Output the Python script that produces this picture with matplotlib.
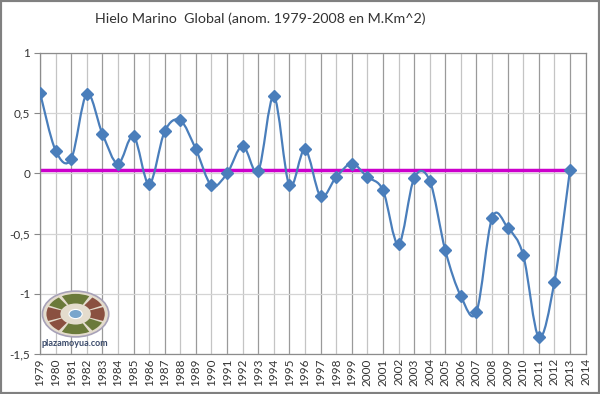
import numpy as np
from matplotlib import pyplot as plt
from matplotlib.path import Path
from matplotlib.patches import PathPatch, Ellipse, Rectangle, Wedge, Circle

years = list(range(1979, 2014))
anom = [0.67, 0.19, 0.12, 0.66, 0.33, 0.08, 0.31, -0.09, 0.35, 0.44,
        0.20, -0.10, 0.00, 0.23, 0.02, 0.64, -0.10, 0.20, -0.19, -0.03,
        0.08, -0.03, -0.14, -0.59, -0.04, -0.06, -0.64, -1.02, -1.15, -0.37,
        -0.45, -0.68, -1.36, -0.90, 0.03]
mean_line = 0.03
xticks = list(range(1979, 2015))
yticks = [-1.5, -1, -0.5, 0, 0.5, 1]
ylabels = ["-1,5", "-1", "-0,5", "0", "0,5", "1"]

plt.rcParams['font.family'] = ['Lato', 'DejaVu Sans']

fig = plt.figure(figsize=(6, 3.94), dpi=100)
ax = fig.add_axes([0.0667, 0.1015, 0.9093, 0.764])

# smooth curve like a spreadsheet "smoothed line"
x = np.array(years, dtype=float)
y = np.array(anom)
verts = [(x[0], y[0])]
codes = [Path.MOVETO]
n = len(x)
for i in range(n - 1):
    p0 = np.array([x[max(i - 1, 0)], y[max(i - 1, 0)]])
    p1 = np.array([x[i], y[i]])
    p2 = np.array([x[i + 1], y[i + 1]])
    p3 = np.array([x[min(i + 2, n - 1)], y[min(i + 2, n - 1)]])
    c1 = p1 + (p2 - p0) / 6
    c2 = p2 - (p3 - p1) / 6
    verts += [tuple(c1), tuple(c2), tuple(p2)]
    codes += [Path.CURVE4] * 3
ax.add_patch(PathPatch(Path(verts, codes), fill=False, edgecolor='#4a7ebb', lw=1.6, zorder=3))
ax.plot(years, anom, linestyle='none', marker='D', markersize=6.5, color='#4a7ebb', zorder=4)

ax.plot([years[0], years[-1]], [mean_line, mean_line], color='#cc00cc', lw=2.5, zorder=2)

ax.set_xlim(1979, 2014)
ax.set_ylim(-1.5, 1)
ax.set_xticks(xticks)
ax.set_xticklabels([str(v) for v in xticks], rotation=90, fontsize=8.5, color='#333333')
ax.set_yticks(yticks)
ax.set_yticklabels(ylabels, fontsize=8.5, color='#333333')
ax.tick_params(axis='x', length=0, pad=3)
ax.tick_params(axis='y', length=4, color='#888888', pad=3)

for i, v in enumerate(xticks):
    ax.axvline(v, color='#9a9a9a' if i % 2 == 0 else '#c4c4c4', lw=0.9, zorder=1)
for v in yticks:
    ax.axhline(v, color='#d4d4d4', lw=0.9, zorder=1)
for s in ax.spines.values():
    s.set_color('#8c8c8c')
    s.set_linewidth(0.9)

fig.text(0.433, 0.953, "Hielo Marino  Global (anom. 1979-2008 en M.Km^2)",
         ha='center', va='center', fontsize=10.3, color='#333333')

# logo
lax = fig.add_axes([0.068, 0.142, 0.116, 0.122])
lax.set_xlim(-1.05, 1.05)
lax.set_ylim(-1.05, 1.05)
lax.axis('off')
lax.add_patch(Circle((0, 0), 1.0, facecolor='#e4dccd', edgecolor='#a8a2b8', lw=1.2))
segs = [(62, 118, '#6b7a3a'), (242, 298, '#6b7a3a'), (160, 200, '#8a5040'),
        (-20, 20, '#8a5040'), (25, 55, '#8a5040'), (125, 155, '#6b7a3a'),
        (205, 235, '#8a5040'), (305, 335, '#6b7a3a')]
for a1, a2, c in segs:
    lax.add_patch(Wedge((0, 0), 0.88, a1, a2, width=0.42, facecolor=c, edgecolor='none'))
lax.add_patch(Circle((0, 0), 0.2, facecolor='#7aa6cc', edgecolor='#ffffff', lw=0.8))
fig.text(0.125, 0.127, "plazamoyua.com", ha='center', va='center', fontsize=6.5,
         fontweight='bold', color='#3a4a6a')

fig.patches.append(Rectangle((0, 0), 1, 1, transform=fig.transFigure, fill=False,
                             edgecolor='#808080', lw=3))

plt.savefig("out.png", dpi=100)
